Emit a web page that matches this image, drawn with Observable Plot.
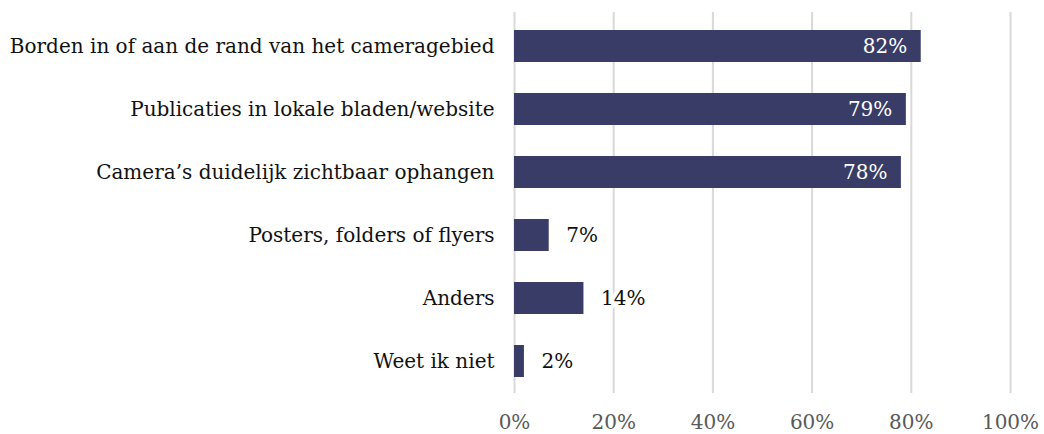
<!DOCTYPE html>
<html>
<head>
<meta charset="utf-8">
<script src="https://cdn.jsdelivr.net/npm/d3@7"></script>
<script src="https://cdn.jsdelivr.net/npm/@observablehq/plot@0.6"></script>
<style>
  html, body { margin: 0; padding: 0; background: #fff; }
  svg { display: block; }
</style>
</head>
<body>
<div id="chart"></div>
<script>
const categories = [
  "Borden in of aan de rand van het cameragebied",
  "Publicaties in lokale bladen/website",
  "Camera’s duidelijk zichtbaar ophangen",
  "Posters, folders of flyers",
  "Anders",
  "Weet ik niet"
];
const values = [0.82, 0.79, 0.78, 0.07, 0.14, 0.02];
const xTicks = [0, 0.2, 0.4, 0.6, 0.8, 1.0];

const data = categories.map((c, i) => ({category: c, value: values[i]}));
const inside = data.filter(d => d.value >= 0.5);
const outside = data.filter(d => d.value < 0.5);
const fmt = d3.format(".0%");
const font = "'DejaVu Serif', serif";

const chart = Plot.plot({
  width: 1044,
  height: 434,
  marginLeft: 514,
  marginRight: 34,
  marginTop: 15,
  marginBottom: 41,
  style: {fontFamily: font, fontSize: "20px", background: "#fff"},
  x: {domain: [0, 1], ticks: xTicks},
  y: {domain: categories, paddingInner: 0.49, paddingOuter: 0.245},
  marks: [
    Plot.ruleX(xTicks, {stroke: "#d9d9d9", strokeWidth: 2, insetTop: -3}),
    Plot.barX(data, {x: "value", y: "category", fill: "#383c66"}),
    Plot.text(inside, {x: "value", y: "category", text: d => fmt(d.value), textAnchor: "end", dx: -14, fill: "#ffffff", fontSize: 20}),
    Plot.text(outside, {x: "value", y: "category", text: d => fmt(d.value), textAnchor: "start", dx: 17, fill: "#111", stroke: "#fff", strokeWidth: 8, fontSize: 20}),
    Plot.axisX({ticks: xTicks, tickFormat: fmt, tickSize: 0, tickPadding: 21, fill: "#595959", fontSize: 20, label: null}),
    Plot.axisY({tickSize: 0, tickPadding: 20, fill: "#111", fontSize: 20, label: null})
  ]
});
document.getElementById("chart").appendChild(chart);
</script>
</body>
</html>
